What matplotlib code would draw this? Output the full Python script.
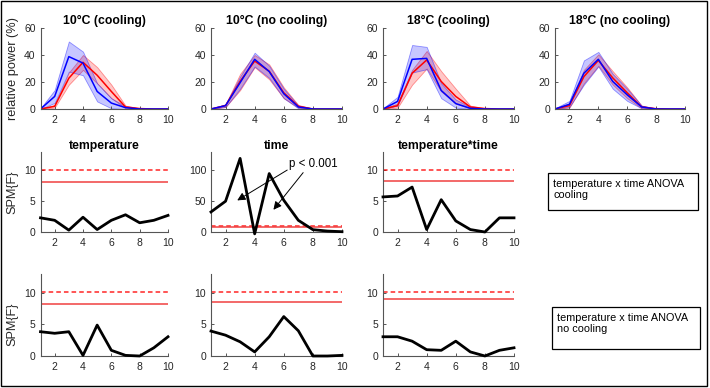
import numpy as np
import matplotlib.pyplot as plt
from matplotlib.patches import Rectangle

plt.rcParams['font.family'] = ['Liberation Sans', 'DejaVu Sans']

x = np.arange(1, 11)

# top row: relative power (%), blue = cooling condition trace, red = other
titles_top = ['10°C (cooling)', '10°C (no cooling)', '18°C (cooling)', '18°C (no cooling)']

p1_blue = [0, 9.3, 38.8, 34, 13, 4.4, 1, 0, 0, 0]
p1_blue_hi = [0.5, 14, 50, 42.5, 19, 8, 2, 0.3, 0, 0]
p1_blue_lo = [0, 4.5, 27.7, 25, 5.6, 0.5, 0, 0, 0, 0]
p1_red = [0, 2, 22.8, 34.6, 25, 13, 1.5, 0.3, 0, 0]
p1_red_hi = [0.3, 3, 27, 40, 31, 18, 2.5, 0.6, 0, 0]
p1_red_lo = [0, 1, 18, 29, 19, 8, 0.5, 0, 0, 0]

p2_blue = [0, 2.5, 19.5, 36.8, 27.7, 11.3, 1.5, 0, 0, 0]
p2_blue_hi = [0.3, 3.5, 24, 41.7, 32, 15, 2.5, 0.3, 0, 0]
p2_blue_lo = [0, 1.5, 15, 31.5, 23, 8, 0.5, 0, 0, 0]
p2_red = [0, 2.5, 20.5, 35.5, 28, 12, 2, 0, 0, 0]
p2_red_hi = [0.3, 3.5, 26, 40, 33, 16, 3, 0.3, 0, 0]
p2_red_lo = [0, 1.5, 14, 31, 22, 8, 1, 0, 0, 0]

p3_blue = [0, 5.6, 36.8, 37.5, 13.7, 4, 0.5, 0, 0, 0]
p3_blue_hi = [0.5, 9, 47.4, 46, 19, 7, 1.5, 0.2, 0, 0]
p3_blue_lo = [0, 2.5, 27, 29.5, 8, 1, 0, 0, 0, 0]
p3_red = [0, 2.5, 26.5, 36.3, 20.4, 9.3, 1.5, 0.3, 0, 0]
p3_red_hi = [0.3, 4, 29, 43, 28, 15, 2.5, 0.6, 0, 0]
p3_red_lo = [0, 1, 18, 30, 13, 4, 0.5, 0, 0, 0]

p4_blue = [0, 3.5, 26.5, 36.8, 20.4, 10.5, 1.5, 0, 0, 0]
p4_blue_hi = [0.5, 6, 36, 42.3, 26, 15, 2.5, 0.3, 0, 0]
p4_blue_lo = [0, 1.5, 18, 31.5, 15, 6, 0.5, 0, 0, 0]
p4_red = [0, 2.5, 24, 36, 23, 12, 1.5, 0.2, 0, 0]
p4_red_hi = [0.3, 4, 29, 40.5, 28, 16, 2.5, 0.5, 0, 0]
p4_red_lo = [0, 1, 19, 32, 18, 8, 0.5, 0, 0, 0]

# SPM{F} rows
titles_mid = ['temperature', 'time', 'temperature*time']
temp_cool = [2.3, 1.9, 0.3, 2.4, 0.4, 1.9, 2.8, 1.5, 1.9, 2.7]
time_cool = [32.6, 50, 119.6, -3, 95, 51.6, 19, 3.8, 1.5, 0.5]
inter_cool = [5.7, 5.85, 7.3, 0.4, 5.25, 1.8, 0.4, 0, 2.3, 2.3]
temp_nocool = [3.85, 3.6, 3.85, 0.1, 4.9, 0.9, 0.1, 0, 1.3, 3.05]
time_nocool = [3.95, 3.3, 2.25, 0.65, 3.05, 6.25, 4, 0, 0, 0.1]
inter_nocool = [3.05, 3.05, 2.35, 1.0, 0.9, 2.35, 0.65, 0, 0.9, 1.3]

crit_solid_cool = [8.2, 8.4, 8.3]
crit_dash_cool = [10.0, 10.0, 10.0]
crit_solid_nocool = [8.3, 8.55, 9.0]
crit_dash_nocool = [10.1, 10.1, 10.2]

W, H = 710, 388
fig = plt.figure(figsize=(W / 100, H / 100), dpi=100)


def add_ax(left, right, top, bottom):
    return fig.add_axes([left / W, 1 - bottom / H, (right - left) / W, (bottom - top) / H])


def style(ax):
    for s in ['top', 'right']:
        ax.spines[s].set_visible(False)
    for s in ['left', 'bottom']:
        ax.spines[s].set_color('#555555')
        ax.spines[s].set_linewidth(0.8)
    ax.tick_params(direction='in', length=2.5, width=0.7, colors='#555555',
                   labelcolor='#262626', labelsize=7.5)
    ax.tick_params(axis='x', pad=4)
    ax.tick_params(axis='y', pad=3.5)
    ax.set_xlim(1, 10)
    ax.set_xticks([2, 4, 6, 8, 10])


cols = [(40.5, 168), (211, 342), (383, 514), (555, 685)]

top_data = [
    (p1_blue, p1_blue_hi, p1_blue_lo, p1_red, p1_red_hi, p1_red_lo),
    (p2_blue, p2_blue_hi, p2_blue_lo, p2_red, p2_red_hi, p2_red_lo),
    (p3_blue, p3_blue_hi, p3_blue_lo, p3_red, p3_red_hi, p3_red_lo),
    (p4_blue, p4_blue_hi, p4_blue_lo, p4_red, p4_red_hi, p4_red_lo),
]

for i, (b, bh, bl, r, rh, rl) in enumerate(top_data):
    ax = add_ax(cols[i][0], cols[i][1], 28, 109)
    style(ax)
    ax.fill_between(x, rl, rh, facecolor=(1, 0, 0, 0.22), edgecolor=(1, 0, 0, 0.4), lw=0.6)
    ax.fill_between(x, bl, bh, facecolor=(0, 0, 1, 0.22), edgecolor=(0, 0, 1, 0.4), lw=0.6)
    ax.plot(x, r, color='red', lw=1.1)
    ax.plot(x, b, color='blue', lw=1.1)
    ax.set_ylim(0, 60)
    ax.set_yticks([0, 20, 40, 60])
    ax.set_title(titles_top[i], fontsize=8.8, fontweight='bold', pad=3)
    if i == 0:
        ax.set_ylabel('relative power (%)', fontsize=9.2, color='#262626')
        ax.yaxis.set_label_coords(-0.17, 0.5)

rows = [
    (152, 232, [temp_cool, time_cool, inter_cool], crit_solid_cool, crit_dash_cool, 0.5),
    (274, 356, [temp_nocool, time_nocool, inter_nocool], crit_solid_nocool, crit_dash_nocool, 0.39),
]

for r_i, (top, bot, series, solid, dash, ylab_y) in enumerate(rows):
    for c in range(3):
        ax = add_ax(cols[c][0], cols[c][1], top, bot)
        style(ax)
        ax.axhline(dash[c], color='red', lw=1.1, ls=(0, (3, 2)), alpha=0.85)
        ax.axhline(solid[c], color='#f04040', lw=1.1)
        ax.plot(x, series[c], color='black', lw=2, clip_on=False, zorder=3)
        if r_i == 0 and c == 1:
            ax.set_ylim(0, 130)
            ax.set_yticks([0, 50, 100])
        else:
            ax.set_ylim(0, 13)
            ax.set_yticks([0, 5, 10])
        if r_i == 0:
            ax.set_title(titles_mid[c], fontsize=8.8, fontweight='bold', pad=2.5)
        if c == 0:
            ax.set_ylabel('SPM{F}', fontsize=9.2, color='#262626')
            ax.yaxis.set_label_coords(-0.175, ylab_y)
        if r_i == 0 and c == 1:
            ax.text(8.05, 111, 'p < 0.001', fontsize=8.3, ha='center', va='center')
            ax.annotate('', xy=(2.64, 49), xytext=(6.4, 103),
                        arrowprops=dict(arrowstyle='-|>', color='black', lw=0.7,
                                        mutation_scale=12))
            ax.annotate('', xy=(5.17, 32.6), xytext=(7.45, 100),
                        arrowprops=dict(arrowstyle='-|>', color='black', lw=0.7,
                                        mutation_scale=12))

# text boxes
box_specs = [
    (548, 698, 173, 210, 'temperature x time ANOVA\ncooling'),
    (552, 700, 307, 349, 'temperature x time ANOVA\nno cooling'),
]
for l, r, t, b, txt in box_specs:
    fig.patches.append(Rectangle((l / W, 1 - b / H), (r - l) / W, (b - t) / H,
                                 transform=fig.transFigure, fill=False,
                                 edgecolor='black', lw=0.9))
    fig.text((l + 5) / W, 1 - (t + 6) / H, txt, fontsize=7.8, va='top', ha='left',
             linespacing=1.15)

# outer frame
fig.patches.append(Rectangle((1 / W, 2 / H), 706 / W, 385 / H, transform=fig.transFigure,
                             fill=False, edgecolor='black', lw=1))

fig.savefig('out.png', dpi=100)
